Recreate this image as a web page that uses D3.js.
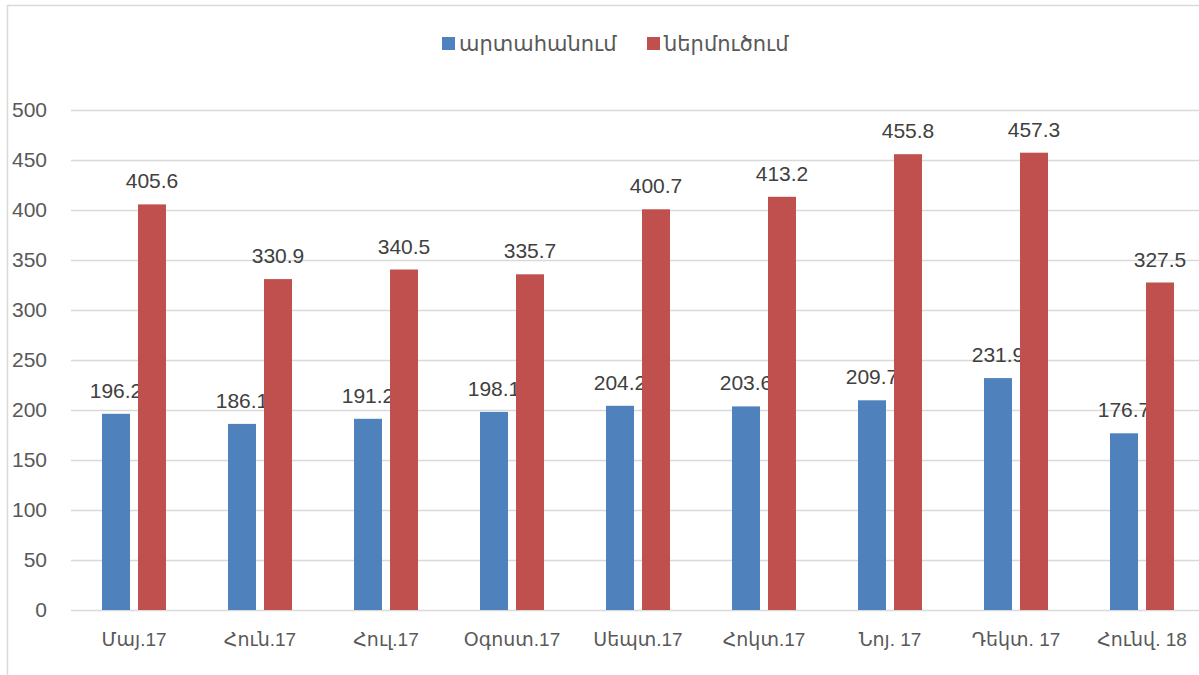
<!DOCTYPE html>
<html><head><meta charset="utf-8">
<script src="https://cdn.jsdelivr.net/npm/d3@7"></script>
<style>
html,body{margin:0;padding:0;background:#fff;}
svg{display:block;font-family:"Liberation Sans","DejaVu Sans",sans-serif;}
</style></head>
<body><svg id="c" width="1199" height="675"></svg>
<script>
const categories = ["Մայ.17","Հուն.17","Հուլ.17","Օգոստ.17","Սեպտ.17","Հոկտ.17","Նոյ. 17","Դեկտ. 17","Հունվ. 18"];
const seriesNames = ["արտահանում","ներմուծում"];
const exportsVals = [196.2,186.1,191.2,198.1,204.2,203.6,209.7,231.9,176.7];
const importsVals = [405.6,330.9,340.5,335.7,400.7,413.2,455.8,457.3,327.5];
const yTicks = [0,50,100,150,200,250,300,350,400,450,500];
const colors = ["#4F81BD","#C0504D"];

const svg = d3.select("#c");
const W = 1199, H = 675;
const mLeft = 71, mRight = 1205, mTop = 110, mBottom = 610;

// outer border
svg.append("path").attr("d",`M7.5,675 L7.5,5.5 L1199,5.5`).attr("fill","none").attr("stroke","#D9D9D9").attr("stroke-width",1.5);

const x = d3.scaleBand().domain(categories).range([mLeft,mRight]).paddingInner(0).paddingOuter(0);
const y = d3.scaleLinear().domain([0,500]).range([mBottom,mTop]);

// gridlines
svg.append("g").selectAll("line").data(yTicks).join("line")
  .attr("x1",mLeft).attr("x2",W)
  .attr("y1",d=>Math.round(y(d))+0.5).attr("y2",d=>Math.round(y(d))+0.5)
  .attr("stroke","#D9D9D9").attr("stroke-width",1.5);

// y labels
const yAxis = d3.axisLeft(y).tickValues(yTicks).tickSize(0).tickPadding(0);
const gy = svg.append("g").attr("transform",`translate(47,0)`).call(yAxis);
gy.select(".domain").remove();
gy.selectAll("text").attr("fill","#595959").style("font-size","21px").style("font-family","Liberation Sans, DejaVu Sans, sans-serif");

// x labels
const xAxis = d3.axisBottom(x).tickSize(0).tickPadding(0);
const gx = svg.append("g").attr("transform",`translate(0,632)`).call(xAxis);
gx.select(".domain").remove();
gx.selectAll("text").attr("fill","#595959").style("font-size","19px").style("font-family","Liberation Sans, DejaVu Sans, sans-serif");

const barW = 28, gap = 8;
const series = [exportsVals, importsVals];
series.forEach((vals,si)=>{
  const off = si===0 ? -gap/2-barW : gap/2;
  const g = svg.append("g");
  g.selectAll("rect").data(vals).join("rect")
    .attr("x",(d,i)=>x(categories[i])+x.bandwidth()/2+off)
    .attr("y",d=>y(d))
    .attr("width",barW)
    .attr("height",d=>y(0)-y(d))
    .attr("fill",colors[si]);
  g.selectAll("text").data(vals).join("text")
    .attr("x",(d,i)=>x(categories[i])+x.bandwidth()/2+off+barW/2)
    .attr("y",d=>y(d)-16)
    .attr("text-anchor","middle")
    .attr("fill","#404040")
    .style("font-size","21px")
    .text(d=>d.toFixed(1));
});

// legend
const legend = svg.append("g");
const lx = [442,647];
seriesNames.forEach((n,i)=>{
  legend.append("rect").attr("x",lx[i]).attr("y",37).attr("width",13).attr("height",13).attr("fill",colors[i]);
  legend.append("text").attr("x",lx[i]+17).attr("y",51).attr("fill","#595959").style("font-size","21px").text(n);
});
</script></body></html>
